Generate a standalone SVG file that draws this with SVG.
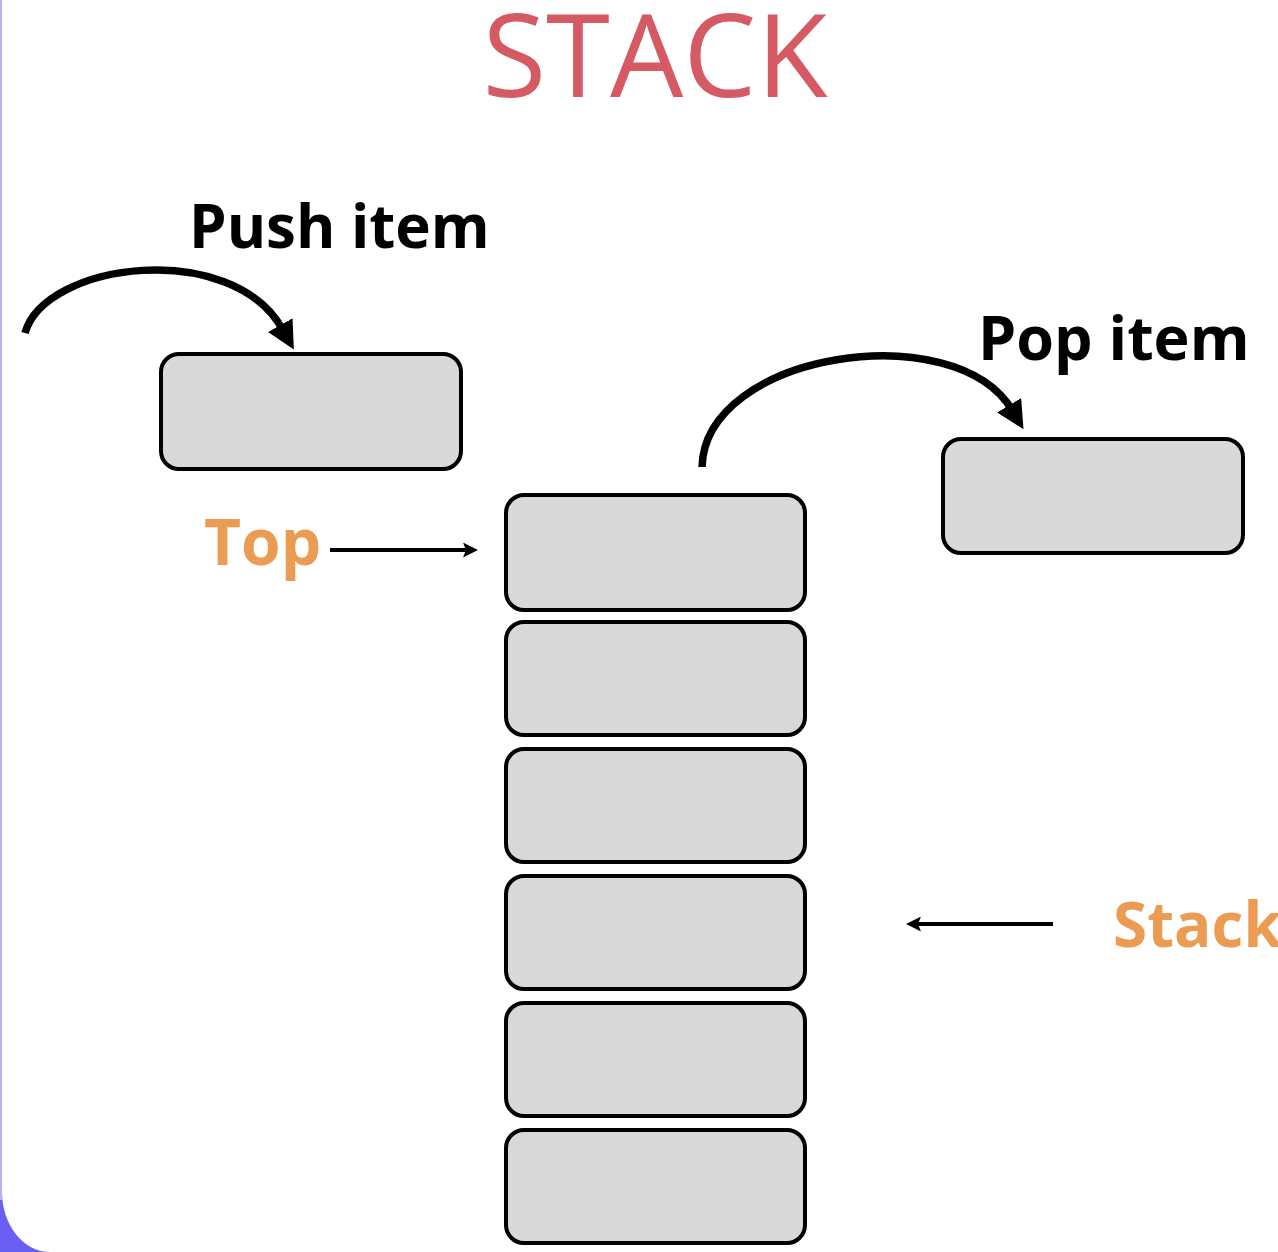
<svg xmlns="http://www.w3.org/2000/svg" width="1278" height="1252" viewBox="0 0 1278 1252">
<style>
.box{fill:#d9d9d9;stroke:#000;stroke-width:4}
.lbl{font-family:"Open Sans","Noto Sans",sans-serif;font-weight:bold}
.orange{fill:#eb9b52}
.arc{fill:none;stroke:#000;stroke-width:7.5}
.ln{fill:none;stroke:#000;stroke-width:4}
</style>
<defs>
<marker id="big" viewBox="0 0 10 10" refX="2" refY="5" markerWidth="28" markerHeight="28" markerUnits="userSpaceOnUse" orient="auto"><path d="M0,0 L10,5 L0,10 z" fill="#000"/></marker>
<marker id="small" viewBox="0 0 10 10" refX="2" refY="5" markerWidth="18" markerHeight="15" markerUnits="userSpaceOnUse" orient="auto"><path d="M0,0 L10,5 L0,10 L2,5 z" fill="#000"/></marker>
</defs>
<rect x="0" y="0" width="1278" height="1252" fill="#6a5ff3"/>
<path d="M2,0 H1278 V1252 H50 A48,60 0 0 1 2,1192 Z" fill="#ffffff"/>
<rect x="0" y="0" width="2" height="1200" fill="#b3b0ff"/>
<text x="655" y="97" text-anchor="middle" font-family="Open Sans, Noto Sans, sans-serif" font-size="116" fill="#d55a63">STACK</text>
<g id="push-label"><text class="lbl" x="189" y="248" font-size="60">Push item</text></g>
<g id="pop-label"><text class="lbl" x="978" y="360" font-size="61">Pop item</text></g>
<g id="top-label"><text class="lbl orange" x="204" y="565" font-size="64">Top</text></g>
<g id="stack-label"><text class="lbl orange" x="1113" y="947" font-size="62">Stack</text></g>
<g id="push-box"><rect class="box" x="161" y="354" width="300" height="115" rx="18"/></g>
<g id="pop-box"><rect class="box" x="943" y="439" width="300" height="114" rx="18"/></g>
<g id="stack">
<rect class="box" x="506" y="495" width="299" height="115" rx="18"/>
<rect class="box" x="506" y="622" width="299" height="113" rx="18"/>
<rect class="box" x="506" y="749" width="299" height="113" rx="18"/>
<rect class="box" x="506" y="876" width="299" height="113" rx="18"/>
<rect class="box" x="506" y="1003" width="299" height="113" rx="18"/>
<rect class="box" x="506" y="1130" width="299" height="113" rx="18"/>
</g>
<g id="connectors">
<path class="arc" d="M25,333 C45,262 232,238 283,330" marker-end="url(#big)"/>
<path class="arc" d="M702,467 C705,352 955,315 1012,410" marker-end="url(#big)"/>
<path class="ln" d="M330,550 H466" marker-end="url(#small)"/>
<path class="ln" d="M1053,924 H918" marker-end="url(#small)"/>
</g>
</svg>
